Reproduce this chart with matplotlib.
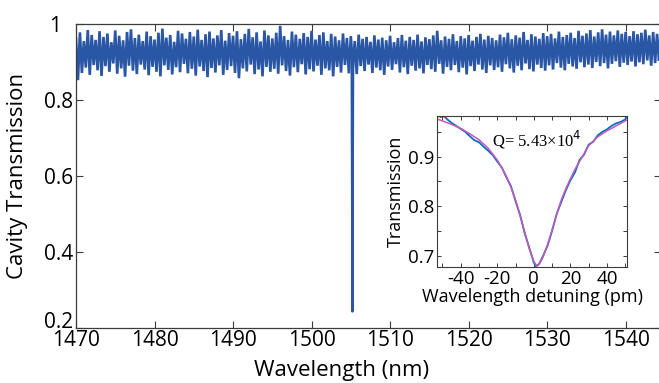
import numpy as np
import matplotlib
matplotlib.use("Agg")
import matplotlib.pyplot as plt
import matplotlib.transforms as mtransforms
from matplotlib.ticker import FixedLocator, FixedFormatter

plt.rcParams["font.family"] = ["Open Sans", "DejaVu Sans"]

# main spectrum, read as peaks (upper) and troughs (lower) of the noisy trace,
# one pair every 0.5 nm starting at 1470 nm (trough sits 0.25 nm after its peak)
wl_start, wl_step = 1470.0, 0.5
upper_T = [
    0.962, 0.978, 0.955, 0.984, 0.971, 0.958, 0.981, 0.966, 0.975, 0.952,
    0.983, 0.969, 0.957, 0.979, 0.986, 0.963, 0.972, 0.955, 0.980, 0.968,
    0.959, 0.977, 0.988, 0.964, 0.971, 0.953, 0.982, 0.975, 0.961, 0.979,
    0.967, 0.985, 0.958, 0.973, 0.980, 0.962, 0.970, 0.984, 0.956, 0.976,
    0.969, 0.981, 0.960, 0.974, 0.987, 0.965, 0.978, 0.954, 0.983, 0.970,
    0.962, 0.977, 0.995, 0.968, 0.958, 0.980, 0.972, 0.961, 0.976, 0.966,
    0.982, 0.959, 0.971, 0.978, 0.955, 0.974, 0.967, 0.957, 0.975, 0.963,
    0.968, 0.955, 0.972, 0.961, 0.966, 0.953, 0.970, 0.959, 0.964, 0.957,
    0.969, 0.952, 0.963, 0.971, 0.956, 0.966, 0.958, 0.972, 0.954, 0.965,
    0.960, 0.970, 0.982, 0.957, 0.967, 0.961, 0.973, 0.955, 0.968, 0.962,
    0.971, 0.956, 0.966, 0.974, 0.959, 0.969, 0.963, 0.957, 0.972, 0.965,
    0.977, 0.960, 0.970, 0.964, 0.979, 0.958, 0.973, 0.967, 0.961, 0.976,
    0.968, 0.974, 0.962, 0.980, 0.966, 0.971, 0.977, 0.963, 0.982, 0.969,
    0.975, 0.984, 0.967, 0.978, 0.986, 0.972, 0.980, 0.970, 0.983, 0.974,
    0.979, 0.968, 0.981, 0.973, 0.977, 0.985, 0.970, 0.979, 0.974, 0.980,
]
lower_T = [
    0.852, 0.871, 0.885, 0.866, 0.892, 0.878, 0.863, 0.889, 0.874, 0.896,
    0.869, 0.883, 0.861, 0.890, 0.877, 0.868, 0.893, 0.880, 0.865, 0.887,
    0.874, 0.862, 0.891, 0.879, 0.867, 0.886, 0.873, 0.895, 0.870, 0.882,
    0.864, 0.888, 0.876, 0.860, 0.884, 0.872, 0.891, 0.866, 0.879, 0.889,
    0.871, 0.857, 0.883, 0.875, 0.893, 0.868, 0.880, 0.862, 0.887, 0.874,
    0.882, 0.869, 0.891, 0.876, 0.864, 0.886, 0.873, 0.894, 0.867, 0.881,
    0.875, 0.890, 0.866, 0.883, 0.878, 0.862, 0.887, 0.872, 0.892, 0.870,
    0.884, 0.868, 0.889, 0.876, 0.893, 0.871, 0.885, 0.878, 0.866, 0.888,
    0.879, 0.894, 0.872, 0.886, 0.868, 0.890, 0.877, 0.883, 0.870, 0.892,
    0.881, 0.874, 0.895, 0.869, 0.887, 0.878, 0.892, 0.873, 0.885, 0.867,
    0.889, 0.876, 0.893, 0.880, 0.871, 0.891, 0.879, 0.886, 0.874, 0.894,
    0.883, 0.872, 0.890, 0.878, 0.896, 0.881, 0.875, 0.893, 0.884, 0.877,
    0.891, 0.880, 0.897, 0.885, 0.878, 0.895, 0.888, 0.882, 0.899, 0.886,
    0.893, 0.884, 0.900, 0.889, 0.897, 0.883, 0.895, 0.902, 0.887, 0.898,
    0.892, 0.901, 0.888, 0.899, 0.894, 0.904, 0.890, 0.897, 0.903, 0.895,
]
# resonance dip
dip_wl = [1505.1, 1505.2, 1505.3]
dip_T = [0.90, 0.242, 0.90]

# inset: measured resonance and Lorentzian fit
det_meas = [-53, -51, -49, -47, -45, -42.5, -40, -37.5, -35, -32.5, -30, -27.5, -25, -22.5,
            -20, -17.5, -15, -12.5, -10, -7.5, -5, -2.5, 0, 1, 2, 3, 5, 7.5, 10, 12.5, 15,
            17.5, 20, 22.5, 25, 27.5, 30, 32.5, 35, 37.5, 40, 42.5, 45, 47.5, 50, 51]
T_meas = [0.983, 0.980, 0.981, 0.974, 0.968, 0.962, 0.956, 0.950, 0.941, 0.933, 0.929, 0.920,
          0.912, 0.903, 0.890, 0.878, 0.858, 0.840, 0.810, 0.782, 0.745, 0.716, 0.686, 0.679,
          0.680, 0.684, 0.699, 0.720, 0.750, 0.784, 0.808, 0.832, 0.852, 0.868, 0.893, 0.904,
          0.924, 0.930, 0.943, 0.950, 0.955, 0.962, 0.967, 0.970, 0.975, 0.982]
det_fit = [-53, -50, -45, -40, -35, -30, -25, -20, -17.5, -15, -12.5, -10, -7.5, -5, -2.5,
           0, 1.5, 3, 5, 7.5, 10, 12.5, 15, 17.5, 20, 22.5, 25, 27.5, 30, 35, 40, 45, 51]
T_fit = [0.976, 0.972, 0.965, 0.957, 0.946, 0.934, 0.917, 0.893, 0.877, 0.860, 0.838, 0.812,
         0.780, 0.748, 0.714, 0.688, 0.680, 0.683, 0.697, 0.722, 0.752, 0.783, 0.812, 0.835,
         0.855, 0.874, 0.890, 0.906, 0.922, 0.940, 0.952, 0.962, 0.974]

main_blue = "#2a56a6"
spine_col = "#3c3c3c"

fig = plt.figure(figsize=(6.59, 3.83), dpi=100)
ax = fig.add_axes([76 / 659, 1 - 327.5 / 383, 585 / 659, 303.5 / 383])

# interleave peaks and troughs into one dense trace
n = len(upper_T)
trace_wl = np.empty(2 * n)
trace_T = np.empty(2 * n)
trace_wl[0::2] = wl_start + wl_step * np.arange(n)
trace_wl[1::2] = wl_start + wl_step * np.arange(n) + wl_step / 2
trace_T[0::2] = upper_T
trace_T[1::2] = lower_T
ax.plot(trace_wl, trace_T, color=main_blue, lw=1.9, solid_joinstyle="miter")
ax.plot(dip_wl, dip_T, color=main_blue, lw=1.6)

ax.set_xlim(1470, 1544.5)
ax.set_ylim(0.2, 1.0)
ax.xaxis.set_major_locator(FixedLocator([1470, 1480, 1490, 1500, 1510, 1520, 1530, 1540]))
ax.yaxis.set_major_locator(FixedLocator([0.2, 0.4, 0.6, 0.8, 1.0]))
ax.yaxis.set_major_formatter(FixedFormatter(["0.2", "0.4", "0.6", "0.8", "1"]))
ax.tick_params(direction="in", length=5, width=0.8, color=spine_col, labelsize=15,
               top=True, right=True, pad=2)
# lift the bottom y label so it clears the x labels, and pull "1" left like the original
ylabels = ax.get_yticklabels()
ylabels[0].set_transform(ylabels[0].get_transform()
                         + mtransforms.ScaledTranslation(0, 8 / 100, fig.dpi_scale_trans))
ylabels[-1].set_transform(ylabels[-1].get_transform()
                          + mtransforms.ScaledTranslation(-12 / 100, 0, fig.dpi_scale_trans))
for s in ax.spines.values():
    s.set_color(spine_col)
    s.set_linewidth(0.9)
ax.set_xlabel("Wavelength (nm)", fontsize=16)
ax.xaxis.set_label_coords(0.454, -0.108)
ax.set_ylabel("Cavity Transmission", fontsize=16)
ax.yaxis.set_label_coords(-0.082, 0.5)

# inset
ins = fig.add_axes([437 / 659, 1 - 267 / 383, 190 / 659, 151 / 383])
ins.plot(det_meas, T_meas, color="#0072bd", lw=1.3)
ins.plot(det_fit, T_fit, color="#c957b8", lw=1.1)
ins.set_xlim(-53, 51)
ins.set_ylim(0.677, 0.982)
ins.xaxis.set_major_locator(FixedLocator(list(range(-50, 51, 10))))
ins.xaxis.set_major_formatter(FixedFormatter(["", "-40", "", "-20", "", "0", "", "20", "", "40", ""]))
ins.yaxis.set_major_locator(FixedLocator([0.7, 0.75, 0.8, 0.85, 0.9, 0.95]))
ins.yaxis.set_major_formatter(FixedFormatter(["0.7", "", "0.8", "", "0.9", ""]))
ins.tick_params(direction="in", length=3, width=0.7, color=spine_col, labelsize=13.5,
                top=True, right=True, pad=2)
for s in ins.spines.values():
    s.set_color(spine_col)
    s.set_linewidth(0.8)
ins.set_xlabel("Wavelength detuning (pm)", fontsize=13, labelpad=0)
ins.set_ylabel("Transmission", fontsize=13, labelpad=2)
ins.text(-23, 0.934, "Q= 5.43×10$^{4}$", family="Liberation Serif", fontsize=12,
         va="center", ha="left")

fig.savefig("out.png", dpi=100)
